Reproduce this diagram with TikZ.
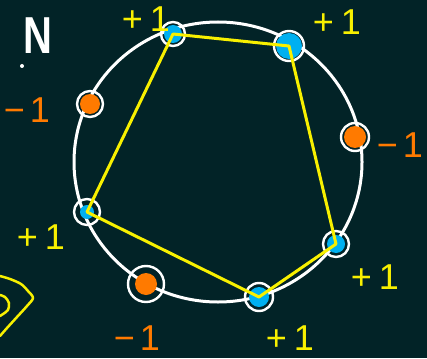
\documentclass[tikz,border=0pt]{standalone}
\usepackage{fontspec}
\setmainfont{Liberation Sans}
\begin{document}
\begin{tikzpicture}[x=1pt,y=-1pt,line cap=round,line join=round,font=\fontsize{36}{36}\selectfont]
\definecolor{bg}{HTML}{022327}\definecolor{chalk}{HTML}{FFFFFF}\definecolor{hi}{HTML}{F8F000}\definecolor{dotblue}{HTML}{00B0F0}\definecolor{dotorange}{HTML}{FF7A00}
\tikzset{site/.style n args={3}{circle,draw=chalk,line width=2.4pt,minimum size=#2pt,inner sep=0pt,path picture={\fill[#1] (path picture bounding box.center) circle (#3pt);}},edge/.style={hi,line width=3pt}}
\useasboundingbox (0,0) rectangle (427,358);\fill[bg] (0,0) rectangle (427,358);
\draw[chalk,line width=3pt] (218,162) ellipse [x radius=144,y radius=140];
\foreach \n/\x/\y/\c/\s/\r in {A/173/34/dotblue/24/9,B/289/46/dotblue/30/13,C/355/137/dotorange/28/11,D/336/244/dotblue/26/9,E/259/297/dotblue/28/10,F/146/284/dotorange/36/11,G/87/212/dotblue/26/7,H/90/104/dotorange/26/10}{\node[site={\c}{\s}{\r}] (\n) at (\x,\y) {};}
\draw[edge] (A.center)--(B.center)--(D.center)--(E.center)--(G.center)--cycle;
\foreach \n/\x/\y in {A/146/19,B/337/22,D/375/277,E/290/338,G/41/237}{\node[text=hi,inner sep=1pt] (l\n) at (\x,\y) {+\hspace{7pt}1};}
\foreach \n/\x/\y in {C/400/145,F/137/338,H/27/110}{\node[text=dotorange] (l\n) at (\x,\y) {−\hspace{5pt}1};}
\node[text=chalk,font=\fontsize{40}{40}\bfseries] (north) at (38,36) {\scalebox{1}[1.3]{N}};\fill[chalk] (22,66) circle (2);
\draw[hi,line width=2.5pt] plot[smooth] coordinates {(0,276) (10,279) (21,284) (28,291) (33,298) (27,306) (17,317) (7,328) (0,336)};\draw[hi,line width=2.5pt] plot[smooth] coordinates {(0,295) (5,297) (9,303) (8,310) (3,314) (0,316)};
\end{tikzpicture}
\end{document}
